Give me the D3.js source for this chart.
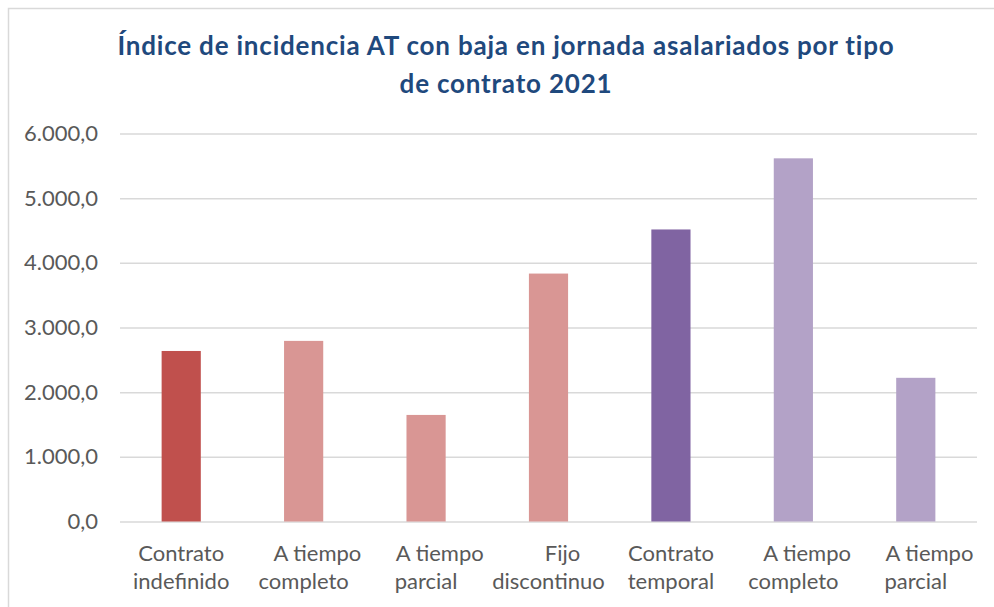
<!DOCTYPE html>
<html><head><meta charset="utf-8">
<script src="https://cdn.jsdelivr.net/npm/d3@7"></script>
<style>html,body{margin:0;padding:0;background:#fff;} svg{display:block;}</style>
</head><body>
<svg id="chart" width="994" height="607"></svg>
<script>
const titleLines = ["Índice de incidencia AT con baja en jornada asalariados por tipo", "de contrato 2021"];
const labelLines = [
  ["Contrato", "indefinido"],
  ["     A tiempo", "completo"],
  ["     A tiempo", "parcial"],
  ["     Fijo", "discontinuo"],
  ["Contrato", "temporal"],
  ["     A tiempo", "completo"],
  ["     A tiempo", "parcial"]
];
const values = [2637, 2793, 1648, 3834, 4516, 5616, 2222];
const colors = ["#C0504D", "#D99694", "#D99694", "#D99694", "#8064A2", "#B3A2C7", "#B3A2C7"];
const yTicks = [0, 1000, 2000, 3000, 4000, 5000, 6000];

const W = 994, H = 607;
const m = {left: 120, right: 17, top: 133.5, bottom: 85.5};
const svg = d3.select("#chart");
const font = "Lato, 'Open Sans', sans-serif";

svg.append("rect").attr("x", 8.5).attr("y", 8.5).attr("width", W).attr("height", H)
  .attr("fill", "#fff").attr("stroke", "#D9D9D9").attr("stroke-width", 1.5);

const x = d3.scaleBand().domain(d3.range(values.length))
  .range([m.left, W - m.right]).paddingInner(0.68).paddingOuter(0.34);
const y = d3.scaleLinear().domain([0, 6000]).range([H - m.bottom, m.top]);

const loc = d3.formatLocale({decimal: ",", thousands: ".", grouping: [3], currency: ["", "€"]});
const fmt = loc.format(",.1f");

const yAxis = svg.append("g").attr("transform", `translate(${m.left},0)`)
  .call(d3.axisLeft(y).tickValues(yTicks).tickFormat(fmt)
    .tickSize(-(W - m.left - m.right)).tickPadding(22));
yAxis.select(".domain").remove();
yAxis.selectAll(".tick line").attr("stroke", "#D9D9D9").attr("stroke-width", 1.5);
yAxis.selectAll(".tick text").attr("fill", "#595959")
  .style("font-family", font).style("font-size", "22px");

svg.append("g").selectAll("rect").data(values).join("rect")
  .attr("x", (d, i) => x(i)).attr("width", x.bandwidth())
  .attr("y", d => y(d)).attr("height", d => y(0) - y(d))
  .attr("fill", (d, i) => colors[i]);

const xAxis = svg.append("g").attr("transform", `translate(0,${y(0)})`)
  .call(d3.axisBottom(x).tickSize(0).tickFormat(""));
xAxis.select(".domain").remove();
xAxis.selectAll(".tick").each(function(d) {
  const t = d3.select(this).append("text").attr("fill", "#595959")
    .attr("text-anchor", "middle").attr("xml:space", "preserve")
    .style("white-space", "pre")
    .style("font-family", font).style("font-size", "22px");
  labelLines[d].forEach((ln, k) => {
    t.append("tspan").attr("x", 0).attr("y", 39 + k * 28).text(ln);
  });
});

const title = svg.append("text").attr("text-anchor", "middle")
  .attr("fill", "#1F497D").style("font-family", font)
  .style("font-weight", "bold").style("font-size", "26px")
  .style("letter-spacing", "0.8px");
titleLines.forEach((ln, k) => {
  title.append("tspan").attr("x", 506).attr("y", 55 + k * 38).text(ln);
});
</script>
</body></html>
